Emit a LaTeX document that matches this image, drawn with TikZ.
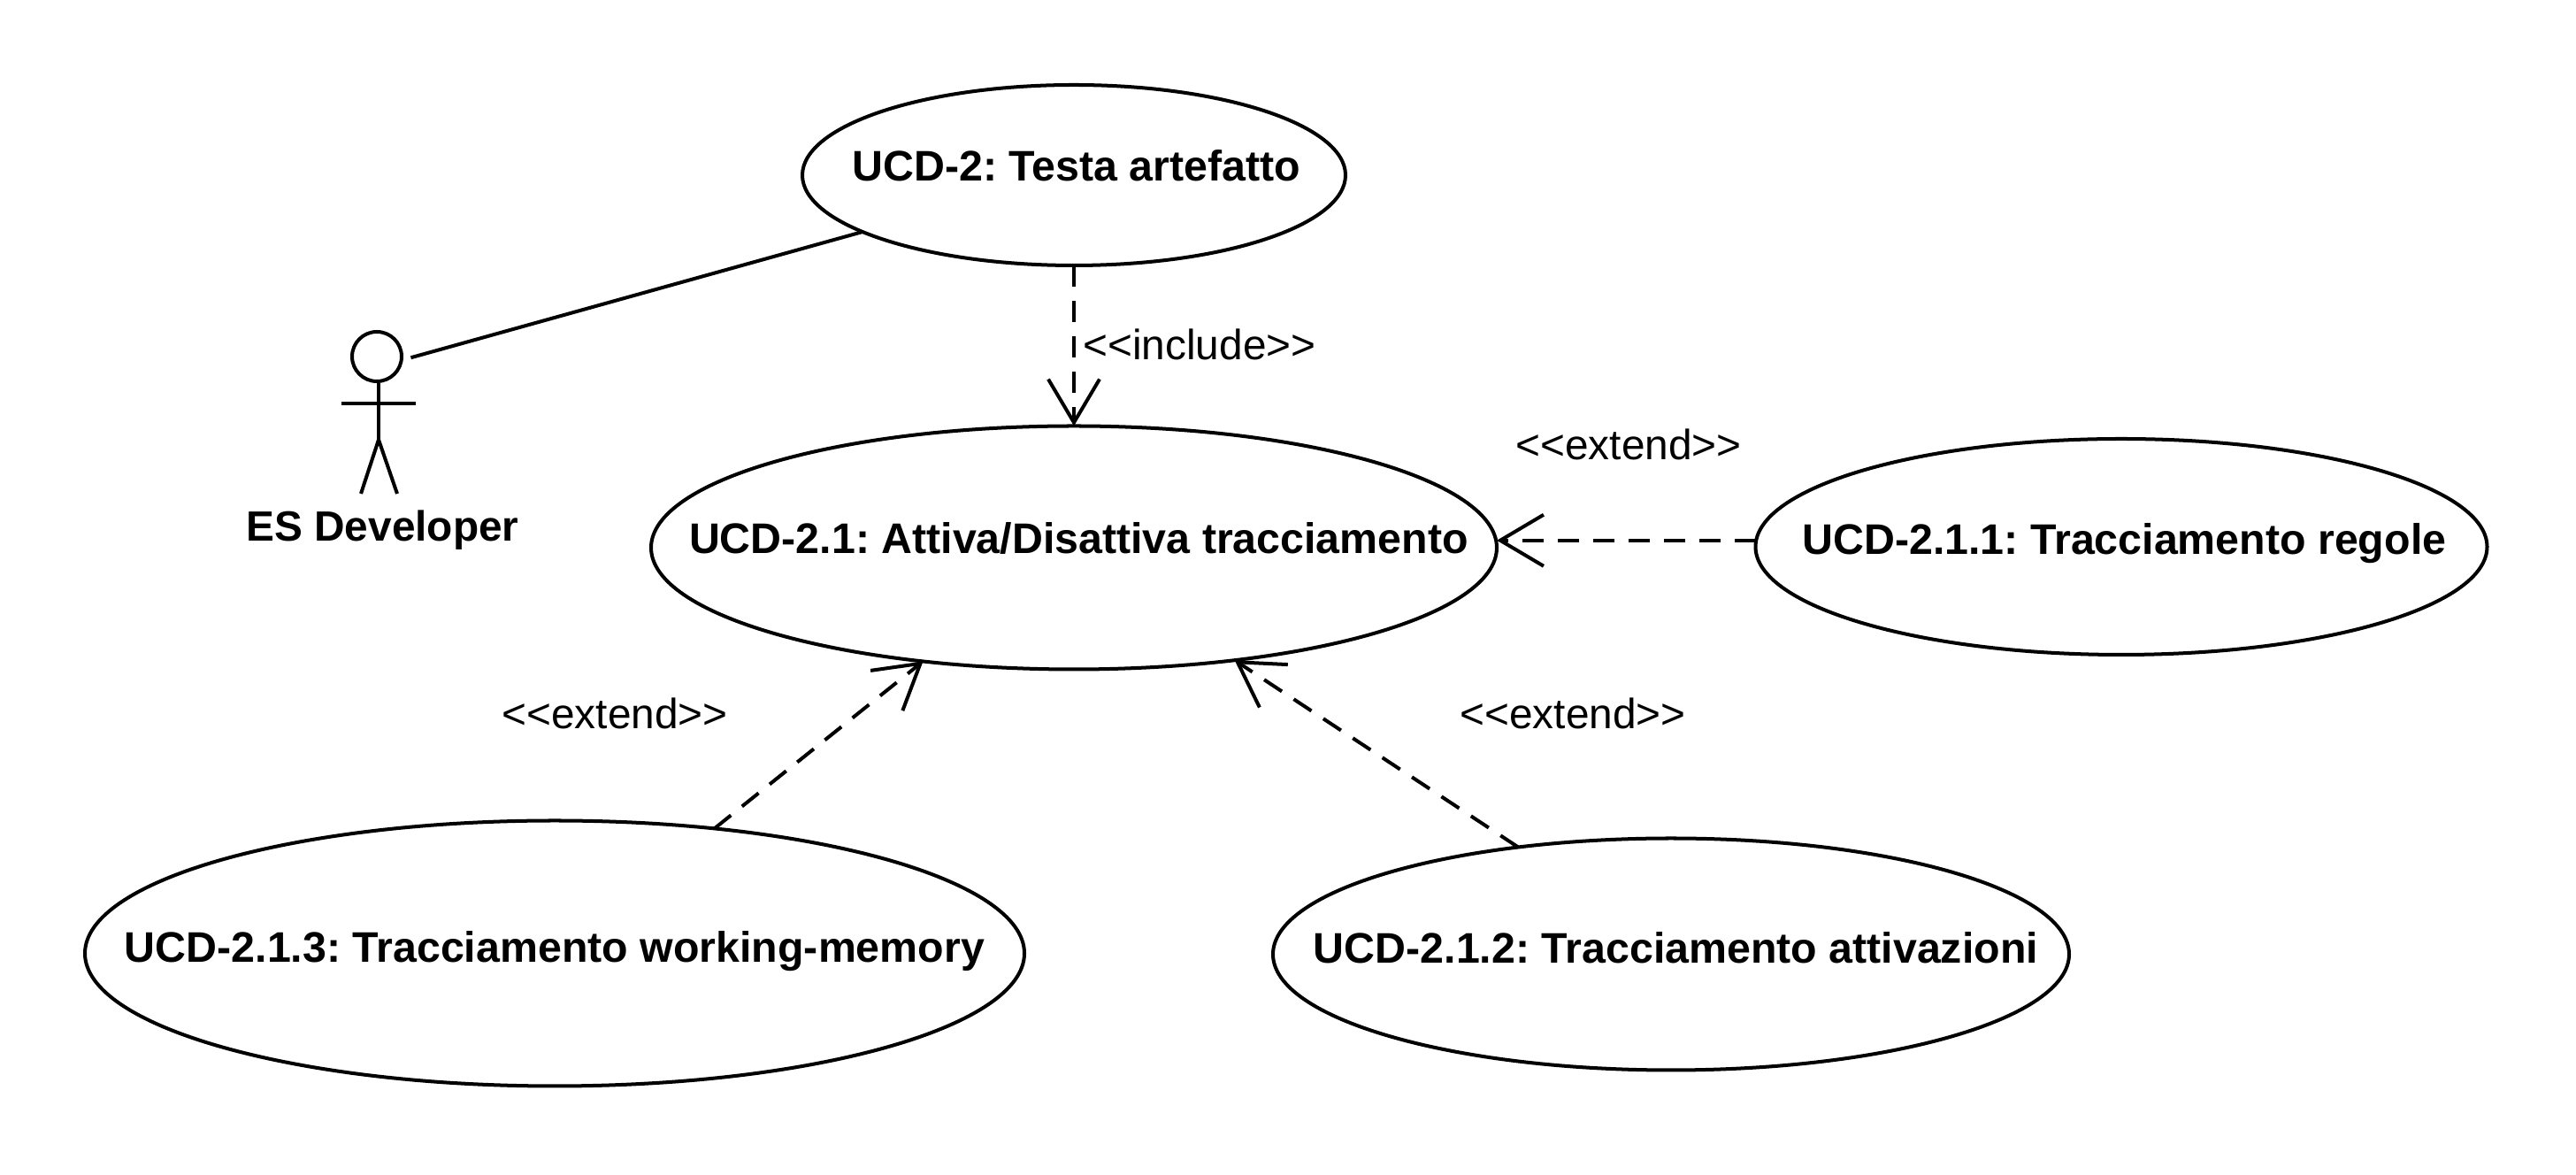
\documentclass[tikz,border=0pt]{standalone}
\usepackage{fontspec}
\setmainfont{Liberation Sans}
\usetikzlibrary{arrows.meta,shapes.geometric}
\newcommand{\uctext}[2][0pt]{\makebox[0pt]{\hspace*{#1}\fontsize{13.75pt}{16pt}\selectfont\bfseries #2}}

\begin{document}
\frenchspacing
\begin{tikzpicture}[line width=1.14pt, font=\fontsize{13.6pt}{16pt}\selectfont]
	\tikzstyle {UseCase} = [shape=ellipse, draw=black, inner sep=0pt, outer sep=0pt, text height=2.4mm, text depth=1mm]
	\tikzstyle {Stereotype} = [anchor=base, inner sep=0pt]
	\tikzstyle {Dep} = [dash pattern=on 2.4mm off 1.6mm, -{Straight Barb[length=4.9mm, width=5.8mm]}]

	\useasboundingbox (0,0) rectangle (29.12,13.28);

	% use cases
	\node[UseCase, minimum width=61.4mm, minimum height=20.4mm] (UCD-2) at (12.14,11.30) {\uctext[.6mm]{UCD-2: Testa artefatto}};
	\node[UseCase, minimum width=95.6mm, minimum height=27.5mm] (UCD-2-1) at (12.14,7.09) {\uctext[1.1mm]{UCD-2.1: Attiva/Disattiva tracciamento}};
	\node[UseCase, minimum width=82.7mm, minimum height=24.4mm, text height=2.6mm, text depth=.8mm] (UCD-2-1-1) at (23.98,7.10) {\uctext[.7mm]{UCD-2.1.1: Tracciamento regole}};
	\node[UseCase, minimum width=90mm, minimum height=26.2mm, text height=2.9mm, text depth=.8mm] (UCD-2-1-2) at (18.89,2.495) {\uctext[1.1mm]{UCD-2.1.2: Tracciamento attivazioni}};
	\node[UseCase, minimum width=106.2mm, minimum height=30mm, text height=2.9mm, text depth=.8mm] (UCD-2-1-3) at (6.27,2.505) {\uctext{UCD-2.1.3: Tracciamento working-memory}};

	% actor
	\node[shape=circle, draw=black, inner sep=0pt, minimum size=5.6mm] (head) at (4.26,9.25) {};
	\coordinate (hip) at (4.28,8.31);
	\coordinate (arm-l) at (3.86,8.72);
	\coordinate (arm-r) at (4.70,8.72);
	\coordinate (foot-l) at (4.08,7.70);
	\coordinate (foot-r) at (4.49,7.70);
	\draw (head.south -| hip) -- (hip);
	\draw (arm-l) -- (arm-r);
	\draw (foot-l) -- (hip) -- (foot-r);
	\node[Stereotype, font=\fontsize{13.6pt}{16pt}\selectfont\bfseries] (actor) at (4.325,7.16) {ES Developer};

	% stereotypes
	\node[Stereotype] (label-include) at (13.56,9.21) {<{}<include>{}>};
	\node[Stereotype] (label-extend-1) at (18.41,8.08) {<{}<extend>{}>};
	\node[Stereotype] (label-extend-2) at (17.78,5.04) {<{}<extend>{}>};
	\node[Stereotype] (label-extend-3) at (6.95,5.04) {<{}<extend>{}>};

	\draw[shorten <=0.9mm] (head.-7) -- (UCD-2.195);
	\draw[Dep] (UCD-2.south) -- (UCD-2-1.north);
	\draw[Dep] (UCD-2-1-1.179) -- (UCD-2-1-1.179 -| UCD-2-1.east);
	\draw[Dep] (UCD-2-1-2.145.6) -- (UCD-2-1.325.7);
	\draw[Dep] (UCD-2-1-3.38) -- (UCD-2-1.217.8);
\end{tikzpicture}
\end{document}
